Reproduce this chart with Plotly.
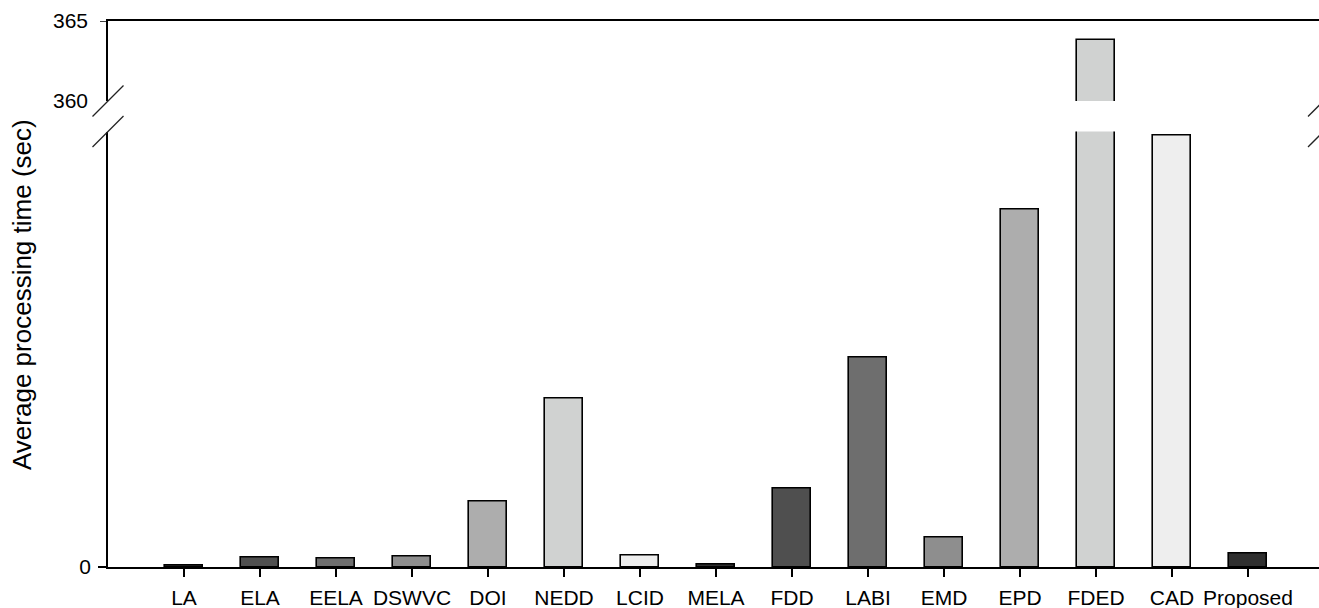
import plotly.graph_objects as go

# Methods compared and their average processing time (seconds)
methods = ["LA", "ELA", "EELA", "DSWVC", "DOI", "NEDD", "LCID", "MELA",
           "FDD", "LABI", "EMD", "EPD", "FDED", "CAD", "Proposed"]
times = [0.3, 2.1, 2.0, 2.3, 15.1, 38.6, 2.7, 0.6,
         18.1, 48.1, 6.8, 82.1, 363.8, 99.0, 3.05]

# grey shades cycled over the bars
shades = ["#2f2f2f", "#4f4f4f", "#6e6e6e", "#8e8e8e", "#adadad", "#d0d2d1", "#eeeeee"]
bar_colors = [shades[i % len(shades)] for i in range(len(methods))]

positions = list(range(1, len(methods) + 1))

# figure geometry (pixels)
W, H = 1319, 608
ML, MR, MT, MB = 108, 0, 21, 41
PW, PH = W - ML - MR, H - MT - MB

lower_top = (567 - 131.5) / PH
upper_bottom = (567 - 101) / PH

lower_range = [0, 100]
upper_range = [360, 365]
x_max = 16 * PW / (PW + 5)

font = dict(family="Liberation Sans, Arial, sans-serif", size=21, color="black")

fig = go.Figure()
for xa, ya in (("x", "y"), ("x2", "y2")):
    fig.add_trace(go.Bar(
        x=positions, y=times, width=0.5,
        marker=dict(color=bar_colors, line=dict(color="black", width=1.6)),
        xaxis=xa, yaxis=ya, showlegend=False, hoverinfo="skip",
    ))

fig.update_layout(
    width=W, height=H,
    margin=dict(l=ML, r=MR, t=MT, b=MB),
    paper_bgcolor="white", plot_bgcolor="white",
    font=font,
    bargap=0,
    xaxis=dict(
        domain=[0, 1], range=[0, x_max], anchor="y",
        tickmode="array", tickvals=positions, ticktext=methods,
        ticks="outside", ticklen=8, tickwidth=1.5, tickcolor="black",
        ticklabelstandoff=3,
        showline=True, linecolor="black", linewidth=1.5,
        showgrid=False, zeroline=False, tickfont=font,
    ),
    yaxis=dict(
        domain=[0, lower_top], range=lower_range, anchor="x",
        tickmode="array", tickvals=[0], ticktext=["0"],
        ticks="outside", ticklen=8, tickwidth=1.5, tickcolor="black",
        ticklabelstandoff=3,
        showline=True, linecolor="black", linewidth=1.5,
        showgrid=False, zeroline=False, tickfont=font,
    ),
    xaxis2=dict(
        domain=[0, 1], range=[0, x_max], anchor="y2", side="top",
        showticklabels=False, ticks="",
        showline=True, linecolor="black", linewidth=1.5,
        showgrid=False, zeroline=False,
    ),
    yaxis2=dict(
        domain=[upper_bottom, 1], range=upper_range, anchor="x2",
        tickmode="array", tickvals=[360, 365], ticktext=["360", "365"],
        ticks="", ticklabelstandoff=14,
        showline=True, linecolor="black", linewidth=1.5,
        showgrid=False, zeroline=False, tickfont=font,
    ),
)

# axis title
fig.add_annotation(
    text="Average processing time (sec)", textangle=-90,
    xref="paper", yref="paper", x=-(ML - 22) / PW, y=(567 - 295) / PH,
    showarrow=False, font=dict(family=font["family"], size=26, color="black"),
    xanchor="center", yanchor="middle",
)

shapes = []
# tick at the top of the upper scale
shapes.append(dict(type="line", xref="paper", yref="y2",
                   x0=-8 / PW, x1=0, y0=365, y1=365,
                   line=dict(color="black", width=1.5)))

# axis-break slashes on both sides
dx, dy = 15.5 / PW, 15.5 / PH
for cx in (0, 1 + 4.5 / PW):
    for cy in (upper_bottom, lower_top):
        shapes.append(dict(type="line", xref="paper", yref="paper",
                           x0=cx - dx, y0=cy - dy, x1=cx + dx, y1=cy + dy,
                           line=dict(color="#222222", width=1.3)))
fig.update_layout(shapes=shapes)

fig.write_html("out.html")
